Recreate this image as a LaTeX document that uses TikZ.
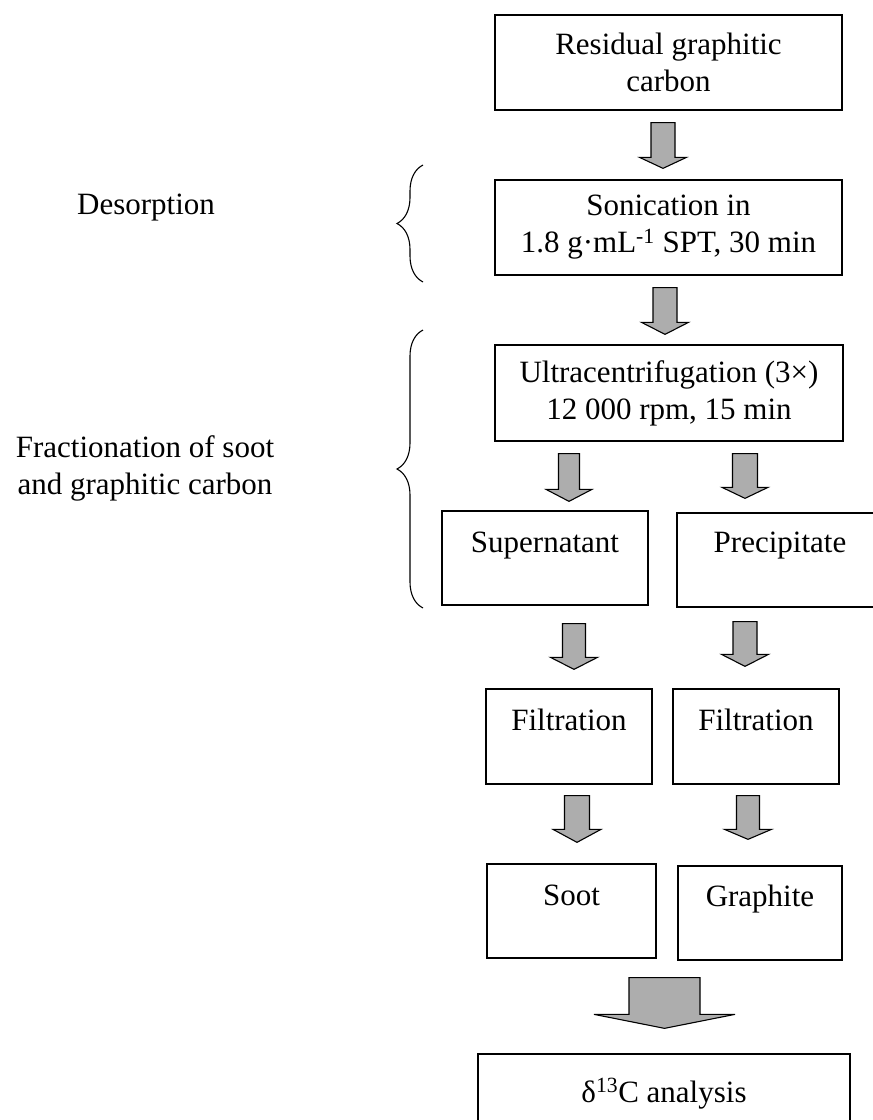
\documentclass[tikz,border=0pt]{standalone}
\usepackage{fontspec}
\setmainfont{Liberation Serif}
\usetikzlibrary{calc,decorations.pathreplacing}
\definecolor{arrowgray}{gray}{0.68}
\tikzset{
  box/.style={draw=black, line width=1.3pt, inner sep=0pt, align=center},
  blk/.style={draw=black, line width=1.1pt, fill=arrowgray, line join=miter},
  bracestyle/.style={draw=black, line width=1.1pt, decorate, decoration={brace, amplitude=26pt}},
  lbl/.style={inner sep=0pt, align=center}
}
% #1 x, #2 from node, #3 to node, #4 top gap, #5 bottom gap, #6 shaft half width, #7 head half width, #8 head length
\newcommand{\blockarrow}[8]{%
  \draw[blk] let \p1=(#2.south), \p2=(#3.north) in
    (#1pt-#6pt, \y1-#4pt) -- (#1pt+#6pt, \y1-#4pt) -- (#1pt+#6pt, \y2+#5pt+#8pt)
    -- (#1pt+#7pt, \y2+#5pt+#8pt) -- (#1pt, \y2+#5pt) -- (#1pt-#7pt, \y2+#5pt+#8pt)
    -- (#1pt-#6pt, \y2+#5pt+#8pt) -- cycle;}
\begin{document}
\begin{tikzpicture}[x=1pt, y=-1pt, font=\fontsize{31}{37}\selectfont]
\useasboundingbox (0,0) rectangle (873,1120);
\clip (0,0) rectangle (873,1120);

% boxes
\node[box, minimum width=347pt, minimum height=95pt] (res) at (668.5,62.5) {Residual graphitic\\carbon};
\node[box, minimum width=347pt, minimum height=95pt] (son) at (668.5,227.5) {Sonication in\\1.8 g·mL\textsuperscript{-1} SPT, 30 min};
\node[box, minimum width=348pt, minimum height=96pt] (ult) at (669,393) {Ultracentrifugation (3×)\\12 000 rpm, 15 min};
\node[box, minimum width=206pt, text height=41pt, text depth=53pt] (sup) at (545,558) {Supernatant};
\node[box, minimum width=206pt, text height=39pt, text depth=55pt] (pre) at (780,560) {Precipitate};
\node[box, minimum width=166pt, text height=41pt, text depth=54pt] (fil1) at (569,736.5) {Filtration};
\node[box, minimum width=166pt, text height=41pt, text depth=54pt] (fil2) at (756,736.5) {Filtration};
\node[box, minimum width=169pt, text height=41pt, text depth=53pt] (soot) at (571.5,911) {Soot};
\node[box, minimum width=164pt, text height=40pt, text depth=54pt] (gra) at (760,913) {Graphite};
\node[box, minimum width=372pt, text height=48pt, text depth=30pt] (d13) at (664,1093) {δ\textsuperscript{13}C analysis};

% block arrows
\blockarrow{663}{res}{son}{12}{11}{12}{23.5}{11}
\blockarrow{665}{son}{ult}{12}{10}{12}{23.5}{12}
\blockarrow{569}{ult}{sup}{12}{9}{10.5}{23}{12}
\blockarrow{745}{ult}{pre}{12}{14}{12.5}{23}{11}
\blockarrow{574}{sup}{fil1}{18}{19}{11.5}{23.5}{12}
\blockarrow{745}{pre}{fil2}{14}{22}{12}{23.5}{12}
\blockarrow{577}{fil1}{soot}{11}{21}{12.5}{24}{13}
\blockarrow{748}{fil2}{gra}{11}{26}{11.5}{23.5}{10}
\blockarrow{664.5}{soot}{d13}{19}{25}{35.5}{70.5}{14}

% braces and labels
\coordinate (b1top) at (423,165);
\coordinate (b1bot) at (423,282);
\coordinate (b2top) at (423,330);
\coordinate (b2bot) at (423,608);
\draw[bracestyle] (b1bot) -- (b1top);
\draw[bracestyle] (b2bot) -- (b2top);
\node[lbl] (desorp) at (146,208) {Desorption};
\node[lbl] (fract) at (145,468) {Fractionation of soot\\and graphitic carbon};
\end{tikzpicture}
\end{document}
